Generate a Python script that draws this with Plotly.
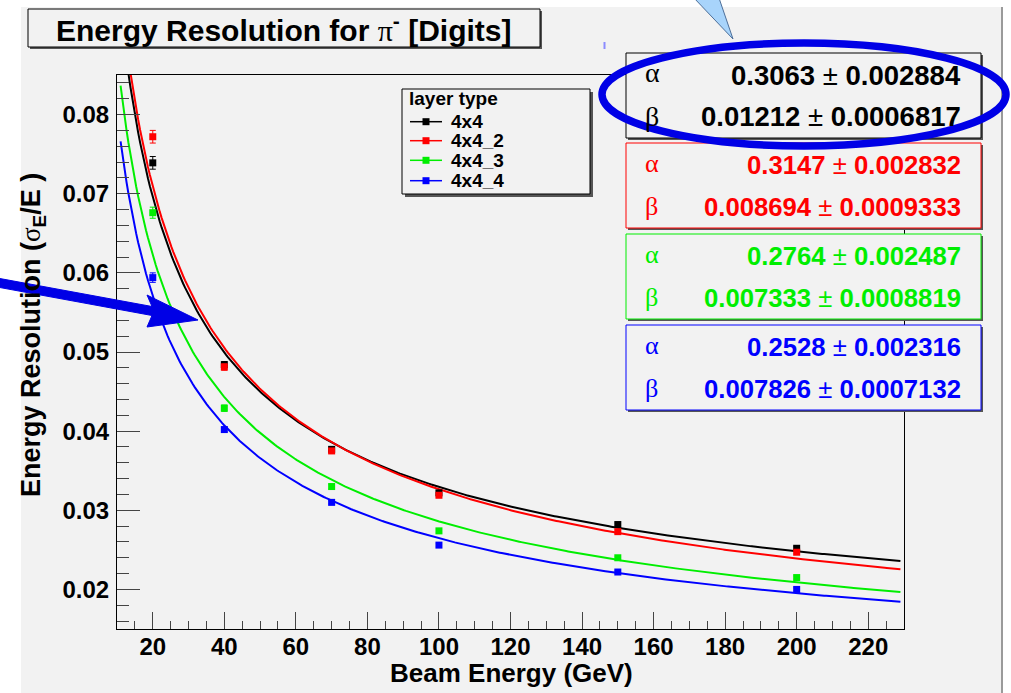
import numpy as np
import plotly.graph_objects as go

# ---- measured resolution points (sigma_E / E) ----
beam_energy = [20, 40, 70, 100, 150, 200]

res_4x4   = [0.0739, 0.0484, 0.0377, 0.0322, 0.0282, 0.0252]
res_4x4_2 = [0.0772, 0.0481, 0.0375, 0.0319, 0.0273, 0.0247]
res_4x4_3 = [0.0676, 0.0429, 0.0330, 0.0274, 0.0240, 0.0215]
res_4x4_4 = [0.0594, 0.0402, 0.0310, 0.0256, 0.0222, 0.0200]

err_4x4   = [0.0008, 0.0004, 0.0003, 0.0003, 0.0002, 0.0002]
err_4x4_2 = [0.0008, 0.0004, 0.0003, 0.0003, 0.0002, 0.0002]
err_4x4_3 = [0.0007, 0.0004, 0.0003, 0.0002, 0.0002, 0.0002]
err_4x4_4 = [0.0006, 0.0003, 0.0002, 0.0002, 0.0002, 0.0002]

layer_names = ["4x4", "4x4_2", "4x4_3", "4x4_4"]
layer_colors = ["#000000", "#ff0000", "#00ee00", "#0000ff"]

# fit results: sigma/E = sqrt(alpha^2/E + beta^2)
fit_alpha     = [0.3063, 0.3147, 0.2764, 0.2528]
fit_alpha_err = ["0.002884", "0.002832", "0.002487", "0.002316"]
fit_beta      = [0.01212, 0.008694, 0.007333, 0.007826]
fit_beta_err  = ["0.0006817", "0.0009333", "0.0008819", "0.0007132"]

x_ticks = [20, 40, 60, 80, 100, 120, 140, 160, 180, 200, 220]
y_ticks = [0.02, 0.03, 0.04, 0.05, 0.06, 0.07, 0.08]

fit_range = (11, 229)

# ---- canvas geometry (pixels) ----
W, H = 1011, 693
L, R, T, B = 117, 904, 75, 629
PW, PH = R - L, B - T


def px(x):
    return (x - L) / PW


def py(y):
    return (B - y) / PH


SANS = "Liberation Sans"
SERIF = "Liberation Serif"
BG = "#f2f2f2"

fig = go.Figure()

series = [res_4x4, res_4x4_2, res_4x4_3, res_4x4_4]
errors = [err_4x4, err_4x4_2, err_4x4_3, err_4x4_4]

# fitted curves
e_fit = np.linspace(fit_range[0], fit_range[1], 400)
for name, col, a, b in zip(layer_names, layer_colors, fit_alpha, fit_beta):
    fig.add_trace(go.Scatter(
        x=e_fit, y=np.sqrt(a ** 2 / e_fit + b ** 2),
        mode="lines", line=dict(color=col, width=2),
        showlegend=False, hoverinfo="skip"))

# data points with error bars
for name, col, vals, errs in zip(layer_names, layer_colors, series, errors):
    fig.add_trace(go.Scatter(
        x=beam_energy, y=vals, mode="markers", name=name,
        marker=dict(symbol="square", size=7, color=col),
        error_y=dict(type="data", array=errs, color=col, thickness=1, width=3),
        showlegend=False))

shapes = []
annotations = []


def rect(x0, y0, x1, y1, line_color="black", fill=BG, lw=1, shadow=None):
    if shadow:
        shapes.append(dict(type="rect", xref="paper", yref="paper",
                           x0=px(x0 + shadow), x1=px(x1 + shadow),
                           y0=py(y1 + shadow), y1=py(y0 + shadow),
                           line=dict(width=0), fillcolor="#555555", layer="above"))
    shapes.append(dict(type="rect", xref="paper", yref="paper",
                       x0=px(x0), x1=px(x1), y0=py(y1), y1=py(y0),
                       line=dict(color=line_color, width=lw),
                       fillcolor=fill, layer="above"))


def text(x, y, s, size, color="black", xanchor="center", bold=True, family=SANS, angle=0):
    annotations.append(dict(
        xref="paper", yref="paper", x=px(x), y=py(y), text=s,
        showarrow=False, xanchor=xanchor, yanchor="middle", textangle=angle,
        font=dict(family=family, size=size, color=color,
                  weight="bold" if bold else "normal")))


# canvas background
shapes.append(dict(type="rect", xref="paper", yref="paper",
                   x0=px(21), x1=px(1002), y0=py(700), y1=py(7),
                   line=dict(width=0), fillcolor=BG, layer="below"))
shapes.append(dict(type="line", xref="paper", yref="paper",
                   x0=px(1002), x1=px(1002), y0=py(700), y1=py(7),
                   line=dict(color="#9a9a9a", width=2), layer="below"))

# title box
rect(28, 9, 540, 47, shadow=2)
text(284, 28,
     "Energy Resolution for <span style='font-family:Liberation Serif;font-weight:normal'>π</span>"
     "<sup>-</sup> [Digits]", 30)

# axis titles
text(511, 673, "Beam Energy (GeV)", 26)
text(33, 335,
     "Energy Resolution (<span style='font-family:Liberation Serif;font-weight:normal'>σ</span>"
     "<sub>E</sub>/E )", 27, angle=-90)

# legend box
rect(402, 89, 590, 194, shadow=3)
text(407, 98, "layer type", 19, xanchor="left")
leg_y = [121.7, 140.7, 160.3, 180.7]
for name, col, yy in zip(layer_names, layer_colors, leg_y):
    shapes.append(dict(type="line", xref="paper", yref="paper",
                       x0=px(410), x1=px(442), y0=py(yy), y1=py(yy),
                       line=dict(color=col, width=1.5), layer="above"))
    shapes.append(dict(type="rect", xref="paper", yref="paper",
                       x0=px(422.5), x1=px(429.5), y0=py(yy + 3.5), y1=py(yy - 3.5),
                       line=dict(width=0), fillcolor=col, layer="above"))
    text(449, yy, name, 19, xanchor="left")

# fit parameter boxes; text in each box is shrunk so its longest line fits
box_tops = [53, 143, 234, 325]
box_text_size = [27.5, 25.7, 25.7, 25.7]
for top, col, fs, a, ae, b, be in zip(box_tops, layer_colors, box_text_size,
                                      fit_alpha, fit_alpha_err, fit_beta, fit_beta_err):
    rect(626, top, 981, top + 85, line_color=col, shadow=2)
    ya, yb = top + 22, top + 63.5
    text(643, ya - 2, "α", fs + 0.5, color=col, xanchor="left", bold=False, family=SERIF)
    text(643, yb, "β", fs + 0.5, color=col, xanchor="left", bold=False, family=SERIF)
    text(963, ya, f"{a:g} <span style='font-weight:normal'>±</span> {ae}", fs,
         color=col, xanchor="right")
    text(963, yb, f"{b:g} <span style='font-weight:normal'>±</span> {be}", fs,
         color=col, xanchor="right")

ARROW_BLUE = "#0000e6"

# highlight ellipse around the first parameter box
shapes.append(dict(type="circle", xref="paper", yref="paper",
                   x0=px(602), x1=px(1006), y0=py(146), y1=py(43),
                   line=dict(color=ARROW_BLUE, width=7.5), layer="above"))

# callout pointer at the top
pts = [(694, -2), (733, 39), (719, -2)]
path = "M " + " L ".join(f"{px(x)},{py(y)}" for x, y in pts) + " Z"
shapes.append(dict(type="path", xref="paper", yref="paper", path=path,
                   fillcolor="#a8d4fb", line=dict(color="#4d6f99", width=1), layer="above"))

# small stray mark
shapes.append(dict(type="line", xref="paper", yref="paper",
                   x0=px(604.5), x1=px(604.5), y0=py(49), y1=py(42),
                   line=dict(color="#8c8cff", width=2), layer="above"))

# large pointing arrow on the left
arrow = [(-3, 278), (152, 306.5), (147, 295), (198, 320), (147, 327), (152, 315.5), (-3, 287)]
path = "M " + " L ".join(f"{px(x)},{py(y)}" for x, y in arrow) + " Z"
shapes.append(dict(type="path", xref="paper", yref="paper", path=path,
                   fillcolor=ARROW_BLUE, line=dict(color=ARROW_BLUE, width=1), layer="above"))

tick_font = dict(family=SANS, size=24, color="black", weight="bold")

fig.update_layout(
    width=W, height=H,
    margin=dict(l=L, r=W - R, t=T, b=H - B, pad=0),
    paper_bgcolor="white", plot_bgcolor=BG,
    showlegend=False,
    shapes=shapes, annotations=annotations,
    xaxis=dict(range=[10, 230], tickvals=x_ticks, ticktext=[str(v) for v in x_ticks],
               ticks="inside", ticklen=17, tickwidth=1, tickcolor="#444444",
               minor=dict(dtick=5, tick0=0, ticks="inside", ticklen=8,
                          tickcolor="#444444", tickwidth=1, showgrid=False),
               showline=True, linecolor="black", linewidth=1, mirror=True,
               showgrid=False, zeroline=False, tickfont=tick_font,
               ticklabelstandoff=-4),
    yaxis=dict(range=[0.015, 0.085], tickvals=y_ticks,
               ticktext=[f"{v:.2f}" for v in y_ticks],
               ticks="inside", ticklen=23, tickwidth=1, tickcolor="#444444",
               minor=dict(dtick=0.002, tick0=0, ticks="inside", ticklen=12,
                          tickcolor="#444444", tickwidth=1, showgrid=False),
               showline=True, linecolor="black", linewidth=1, mirror=True,
               showgrid=False, zeroline=False, tickfont=tick_font,
               ticklabelstandoff=2),
)

fig.write_html("out.html")
